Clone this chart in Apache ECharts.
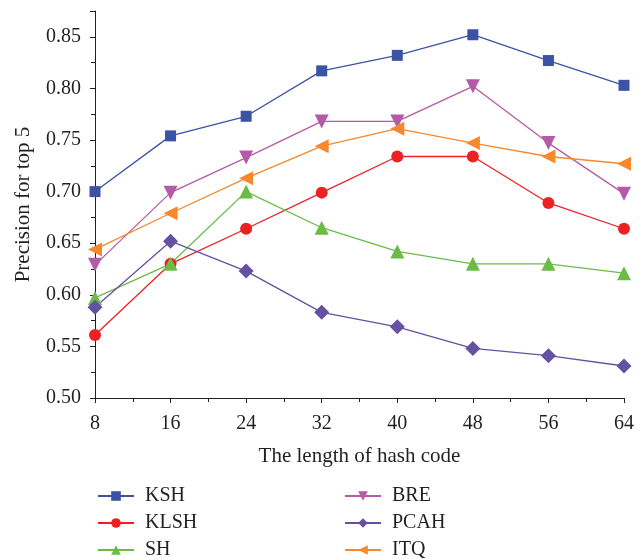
<!DOCTYPE html>
<html><head><meta charset="utf-8">
<script src="https://cdn.jsdelivr.net/npm/echarts@6/dist/echarts.min.js"></script>
<style>html,body{margin:0;padding:0;background:#fff}#c{width:640px;height:559px}</style>
</head><body><div id="c"></div>
<script>
const hashLengths = [8, 16, 24, 32, 40, 48, 56, 64];
const KSH  = [0.700, 0.754, 0.773, 0.817, 0.832, 0.852, 0.827, 0.803];
const KLSH = [0.561, 0.630, 0.664, 0.699, 0.734, 0.734, 0.689, 0.664];
const SH   = [0.597, 0.630, 0.700, 0.665, 0.642, 0.630, 0.630, 0.621];
const BRE  = [0.629, 0.699, 0.733, 0.768, 0.768, 0.802, 0.747, 0.698];
const PCAH = [0.588, 0.652, 0.623, 0.583, 0.569, 0.548, 0.541, 0.531];
const ITQ  = [0.644, 0.679, 0.713, 0.744, 0.761, 0.747, 0.734, 0.727];
const seriesNames = ['KSH', 'KLSH', 'SH', 'BRE', 'PCAH', 'ITQ'];
const seriesData = [KSH, KLSH, SH, BRE, PCAH, ITQ];
const colors = ['#3a53a4', '#ed2024', '#6cbb47', '#b45aa8', '#6451a1', '#f7882c'];
const symbols = ['rect', 'circle', 'triangle', 'triangle', 'diamond', 'triangle'];
const rotates = [0, 0, 0, 180, 0, 90];
const sizes = [11, 12, 14, 14, 15, 14];

const font = '"Liberation Serif", "DejaVu Serif", serif';
const textColor = '#231f20';
const legendText = { fontFamily: font, fontSize: 20, color: textColor, lineHeight: 20, padding: [0, 0, 0, 6] };
const chart = echarts.init(document.getElementById('c'));
chart.setOption({
  animation: false,
  textStyle: { fontFamily: font },
  grid: { left: 95, right: 16, top: 11, bottom: 161 },
  xAxis: {
    type: 'value', min: 8, max: 64, interval: 8,
    name: 'The length of hash code', nameLocation: 'middle', nameGap: 48,
    nameTextStyle: { fontFamily: font, fontSize: 21, color: textColor },
    axisLine: { onZero: false, lineStyle: { color: '#231f20', width: 1 } },
    axisTick: { inside: false, length: 5, lineStyle: { color: '#231f20' } },
    minorTick: { show: true, splitNumber: 2, length: 4, lineStyle: { color: '#231f20' } },
    splitLine: { show: false },
    axisLabel: { fontFamily: font, fontSize: 20, color: textColor, margin: 16 }
  },
  yAxis: {
    type: 'value', min: 0.5, max: 0.875, interval: 0.05,
    name: 'Precision for top 5', nameLocation: 'middle', nameGap: 61, nameRotate: 90,
    nameTextStyle: { fontFamily: font, fontSize: 21, color: textColor },
    axisLine: { show: true, lineStyle: { color: '#231f20', width: 1 } },
    axisTick: { show: true, inside: false, length: 5, lineStyle: { color: '#231f20' } },
    minorTick: { show: true, splitNumber: 2, length: 4, lineStyle: { color: '#231f20' } },
    splitLine: { show: false },
    axisLabel: { fontFamily: font, fontSize: 20, color: textColor, margin: 14, showMaxLabel: false,
      formatter: v => v.toFixed(2) }
  },
  legend: [
    { data: seriesNames.slice(0, 3), orient: 'vertical', left: 97, top: 486, itemGap: 7, padding: 0,
      height: 80, itemWidth: 36, itemHeight: 12, textStyle: legendText },
    { data: seriesNames.slice(3), orient: 'vertical', left: 344, top: 486, itemGap: 7, padding: 0,
      height: 80, itemWidth: 36, itemHeight: 12, textStyle: legendText }
  ],
  series: seriesNames.map((n, i) => ({
    name: n, type: 'line',
    data: hashLengths.map((x, j) => [x, seriesData[i][j]]),
    symbol: symbols[i], symbolSize: sizes[i], symbolRotate: rotates[i],
    lineStyle: { color: colors[i], width: 1.3 },
    itemStyle: { color: colors[i] },
    clip: false
  }))
});
</script></body></html>
